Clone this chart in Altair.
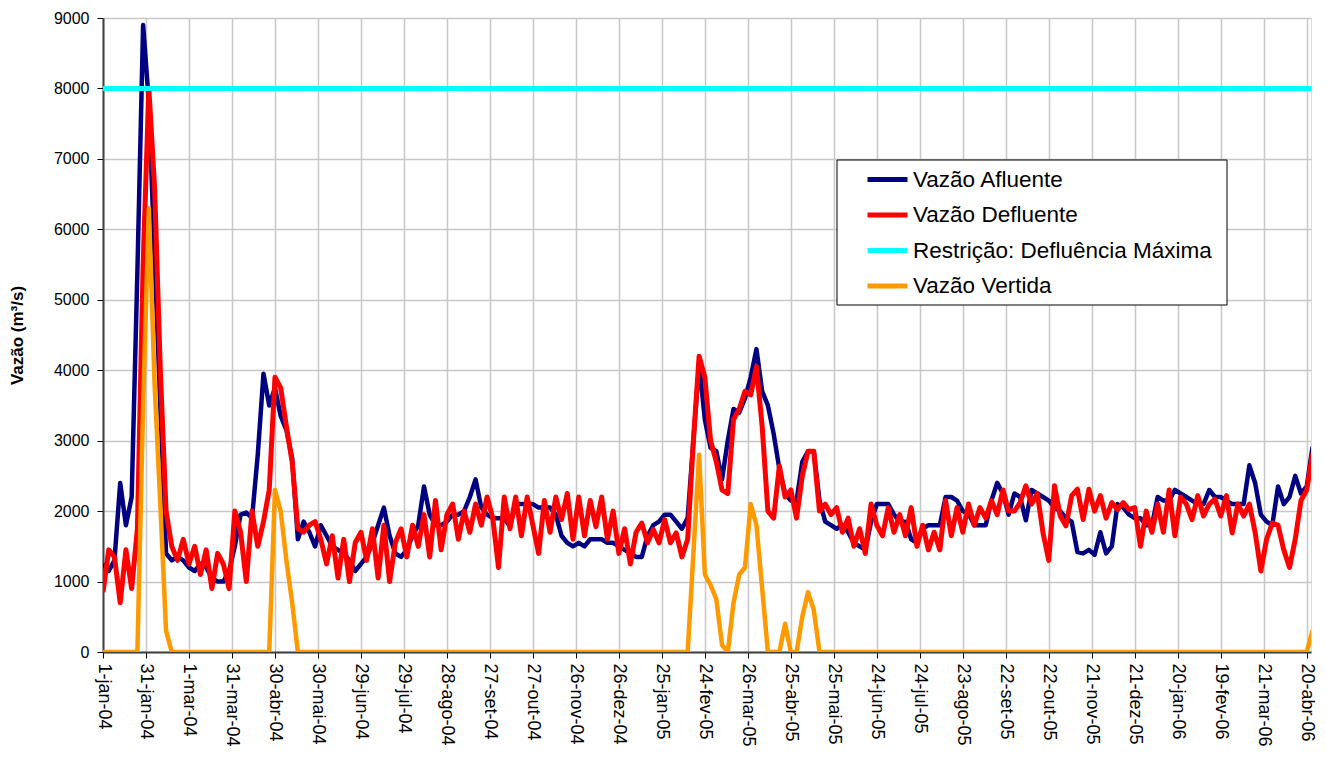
import altair as alt
import pandas as pd

# ---------------- data (one value every 4 days from 1-jan-04) ----------------
STEP_DAYS = 4

afluente = [
    1250, 1150, 1300, 2400, 1800, 2200, 5400, 8900,
    7800, 5600, 3500, 1400, 1300, 1350, 1300, 1200,
    1150, 1250, 1200, 1050, 1000, 1000, 1150, 1500,
    1950, 1980, 1900, 2800, 3950, 3500, 3750, 3350,
    3150, 2750, 1600, 1850, 1700, 1500, 1800, 1650,
    1500, 1450, 1400, 1300, 1150, 1250, 1350, 1550,
    1800, 2050, 1650, 1400, 1350, 1450, 1650, 1800,
    2350, 1950, 1800, 1800, 1850, 1950, 1950, 2000,
    2200, 2450, 2050, 1950, 1900, 1900, 1900, 1780,
    2100, 2100, 2100, 2100, 2050, 2050, 2050, 1950,
    1650, 1550, 1500, 1550, 1500, 1600, 1600, 1600,
    1550, 1550, 1500, 1450, 1400, 1350, 1350, 1650,
    1800, 1850, 1950, 1950, 1850, 1750, 1900, 3000,
    4100, 3300, 2900, 2850, 2450, 3000, 3450, 3400,
    3600, 3900, 4300, 3700, 3500, 3100, 2600, 2250,
    2150, 2150, 2700, 2850, 2850, 2150, 1850,
    1800, 1750, 1800, 1700, 1550, 1500, 1450, 1850,
    2100, 2100, 2100, 1950, 1850, 1850, 1600, 1550,
    1750, 1800, 1800, 1800, 2200, 2200, 2150, 2000,
    1970, 1800, 1800, 1800, 2150, 2400, 2250, 1950,
    2250, 2200, 1870, 2300, 2250, 2200, 2150,
    2050, 2000, 1900, 1850, 1420, 1400, 1450, 1380,
    1700, 1400, 1500, 2100, 2050, 1950, 1900, 1900,
    1800, 1800, 2200, 2150, 2150, 2300, 2250, 2200,
    2150, 2100, 2100, 2300, 2200, 2200, 2150, 2100,
    2100, 2100, 2650, 2400, 1950, 1850, 1800, 2350,
    2100, 2200, 2500, 2250, 2350, 2900, 3050,
]

defluente = [
    850, 1450, 1350, 700, 1450, 900, 1750, 5500,
    8000, 6600, 4000, 2000, 1500, 1300, 1600, 1250,
    1500, 1100, 1450, 900, 1400, 1250, 900, 2000,
    1700, 1000, 2000, 1500, 1850, 2300, 3900, 3750,
    3200, 2700, 1750, 1700, 1800, 1850, 1600, 1250,
    1650, 1050, 1600, 1000, 1550, 1700, 1300, 1750,
    1050, 1800, 1000, 1550, 1750, 1350, 1800, 1500,
    1950, 1350, 2150, 1450, 1950, 2100, 1600, 2000,
    1700, 2100, 1800, 2200, 1900, 1200, 2200, 1750,
    2200, 1650, 2200, 1800, 1400, 2150, 1700, 2200,
    1880, 2250, 1600, 2200, 1650, 2150, 1780, 2200,
    1600, 2000, 1400, 1750, 1250, 1700, 1830, 1550,
    1740, 1550, 1880, 1550, 1690, 1350, 1600, 3000,
    4200, 3900, 3000, 2700, 2300, 2250, 3300, 3450,
    3700, 3650, 4050, 3200, 2000, 1900, 2640, 2200,
    2300, 1900, 2500, 2850, 2850, 2000, 2100,
    1950, 2050, 1700, 1900, 1500, 1750, 1400, 2100,
    1800, 1650, 2050, 1700, 1950, 1650, 2050, 1500,
    1800, 1450, 1700, 1450, 2150, 1650, 2050, 1700,
    2100, 1800, 2050, 1900, 2150, 1950, 2300, 2000,
    2000, 2120, 2360, 2100, 2250, 1690, 1300,
    2360, 1930, 1790, 2220, 2310, 1880, 2310, 2000,
    2220, 1900, 2120, 2020, 2120, 2020, 2050, 1500,
    2000, 1700, 2100, 1700, 2300, 1650, 2200, 2100,
    1880, 2220, 1930, 2100, 2170, 1930, 2220, 1690,
    2100, 1930, 2100, 1700, 1150, 1600, 1830, 1800,
    1450, 1200, 1600, 2150, 2300, 2800, 2850,
]

vertida = [
    0, 0, 0, 0, 0, 0, 0, 3500, 6300, 3800,
    2100, 300, 0, 0, 0, 0, 0, 0, 0, 0,
    0, 0, 0, 0, 0, 0, 0, 0, 0, 0,
    2300, 2000, 1300, 700, 0, 0, 0, 0, 0, 0,
    0, 0, 0, 0, 0, 0, 0, 0, 0, 0,
    0, 0, 0, 0, 0, 0, 0, 0, 0, 0,
    0, 0, 0, 0, 0, 0, 0, 0, 0, 0,
    0, 0, 0, 0, 0, 0, 0, 0, 0, 0,
    0, 0, 0, 0, 0, 0, 0, 0, 0, 0,
    0, 0, 0, 0, 0, 0, 0, 0, 0, 0,
    0, 0, 0, 1400, 2800, 1100, 950, 750, 100, 0,
    700, 1100, 1200, 2100, 1800, 900, 0, 0, 0, 400,
    0, 0, 500, 850, 600, 0, 0, 0, 0, 0,
    0, 0, 0, 0, 0, 0, 0, 0, 0, 0,
    0, 0, 0, 0, 0, 0, 0, 0, 0, 0,
    0, 0, 0, 0, 0, 0, 0, 0, 0, 0,
    0, 0, 0, 0, 0, 0, 0, 0, 0, 0,
    0, 0, 0, 0, 0, 0, 0, 0, 0, 0,
    0, 0, 0, 0, 0, 0, 0, 0, 0, 0,
    0, 0, 0, 0, 0, 0, 0, 0, 0, 0,
    0, 0, 0, 0, 0, 0, 0, 0, 0, 0,
    0, 300, 500,
]

restricao_maxima = 8000

tick_labels = [
    "1-jan-04", "31-jan-04", "1-mar-04", "31-mar-04", "30-abr-04", "30-mai-04",
    "29-jun-04", "29-jul-04", "28-ago-04", "27-set-04", "27-out-04", "26-nov-04",
    "26-dez-04", "25-jan-05", "24-fev-05", "26-mar-05", "25-abr-05", "25-mai-05",
    "24-jun-05", "24-jul-05", "23-ago-05", "22-set-05", "22-out-05", "21-nov-05",
    "21-dez-05", "20-jan-06", "19-fev-06", "21-mar-06", "20-abr-06",
]
TICK_STEP_DAYS = 30

series_names = [
    "Vazão Afluente",
    "Vazão Defluente",
    "Restrição: Defluência Máxima",
    "Vazão Vertida",
]
series_colors = ["#000080", "#FF0000", "#00FFFF", "#FF9900"]
series_widths = [4.5, 5, 5, 4.5]

# ---------------- table ----------------
n = len(afluente)
assert len(defluente) == n and len(vertida) == n
days = [i * STEP_DAYS for i in range(n)]
series_values = [afluente, defluente, [restricao_maxima] * n, vertida]

rows = []
for name, vals in zip(series_names, series_values):
    for d, v in zip(days, vals):
        rows.append({"dia": d, "vazao": v, "serie": name})
df = pd.DataFrame(rows)

FONT = "Liberation Sans"
label_array = "[" + ",".join("'" + s + "'" for s in tick_labels) + "]"
tick_values = [i * TICK_STEP_DAYS for i in range(len(tick_labels))]

x_enc = alt.X(
    "dia:Q",
    scale=alt.Scale(domain=[0, 843], nice=False, zero=False),
    axis=alt.Axis(
        values=tick_values,
        labelExpr=label_array + "[round(datum.value/" + str(TICK_STEP_DAYS) + ")]",
        labelAngle=90,
        labelFont=FONT,
        labelFontSize=18,
        labelColor="#000000",
        labelPadding=5,
        labelOverlap=False,
        tickSize=6,
        tickColor="#000000",
        domainColor="#404040",
        domainWidth=2,
        grid=True,
        gridColor="#C8C8C8",
        gridWidth=1.5,
        title=None,
    ),
)
y_enc = alt.Y(
    "vazao:Q",
    scale=alt.Scale(domain=[0, 9000], nice=False),
    axis=alt.Axis(
        values=list(range(0, 9001, 1000)),
        format="d",
        labelFont=FONT,
        labelFontSize=16,
        labelColor="#000000",
        labelPadding=8,
        tickSize=6,
        tickColor="#000000",
        domainColor="#404040",
        domainWidth=2,
        grid=True,
        gridColor="#C8C8C8",
        gridWidth=1.5,
        title="Vazão (m³/s)",
        titleFont=FONT,
        titleFontSize=17,
        titleFontWeight="bold",
        titleColor="#000000",
        titlePadding=27,
    ),
)
color_enc = alt.Color(
    "serie:N",
    scale=alt.Scale(domain=series_names, range=series_colors),
    legend=alt.Legend(
        title=None,
        orient="none",
        legendX=737,
        legendY=139,
        padding=0,
        symbolType="stroke",
        symbolSize=1600,
        symbolStrokeWidth=5,
        symbolOffset=25,
        labelFont=FONT,
        labelFontSize=22.5,
        labelColor="#000000",
        labelOffset=3,
        labelLimit=500,
        rowPadding=1.5,
    ),
)

base = alt.Chart(df)
layers = []
for name, w in zip(series_names, series_widths):
    layers.append(
        base.transform_filter(alt.datum.serie == name)
        .mark_line(strokeWidth=w, clip=True, strokeJoin="round")
        .encode(x=x_enc, y=y_enc, color=color_enc)
    )

# white box with black frame behind the legend entries
legend_box = (
    alt.Chart(pd.DataFrame({"caixa": [0]}))
    .mark_rect(fill="white", stroke="#000000", strokeWidth=1)
    .encode(x=alt.value(734), x2=alt.value(1124), y=alt.value(142), y2=alt.value(287))
)

chart = (
    alt.layer(*layers, legend_box)
    .properties(width=1208, height=634, padding={"left": 0, "top": 2, "right": 2, "bottom": 5})
    .configure_view(stroke=None)
    .configure(background="white")
)

chart.save("out.html", embed_options={"renderer": "svg", "actions": False})
